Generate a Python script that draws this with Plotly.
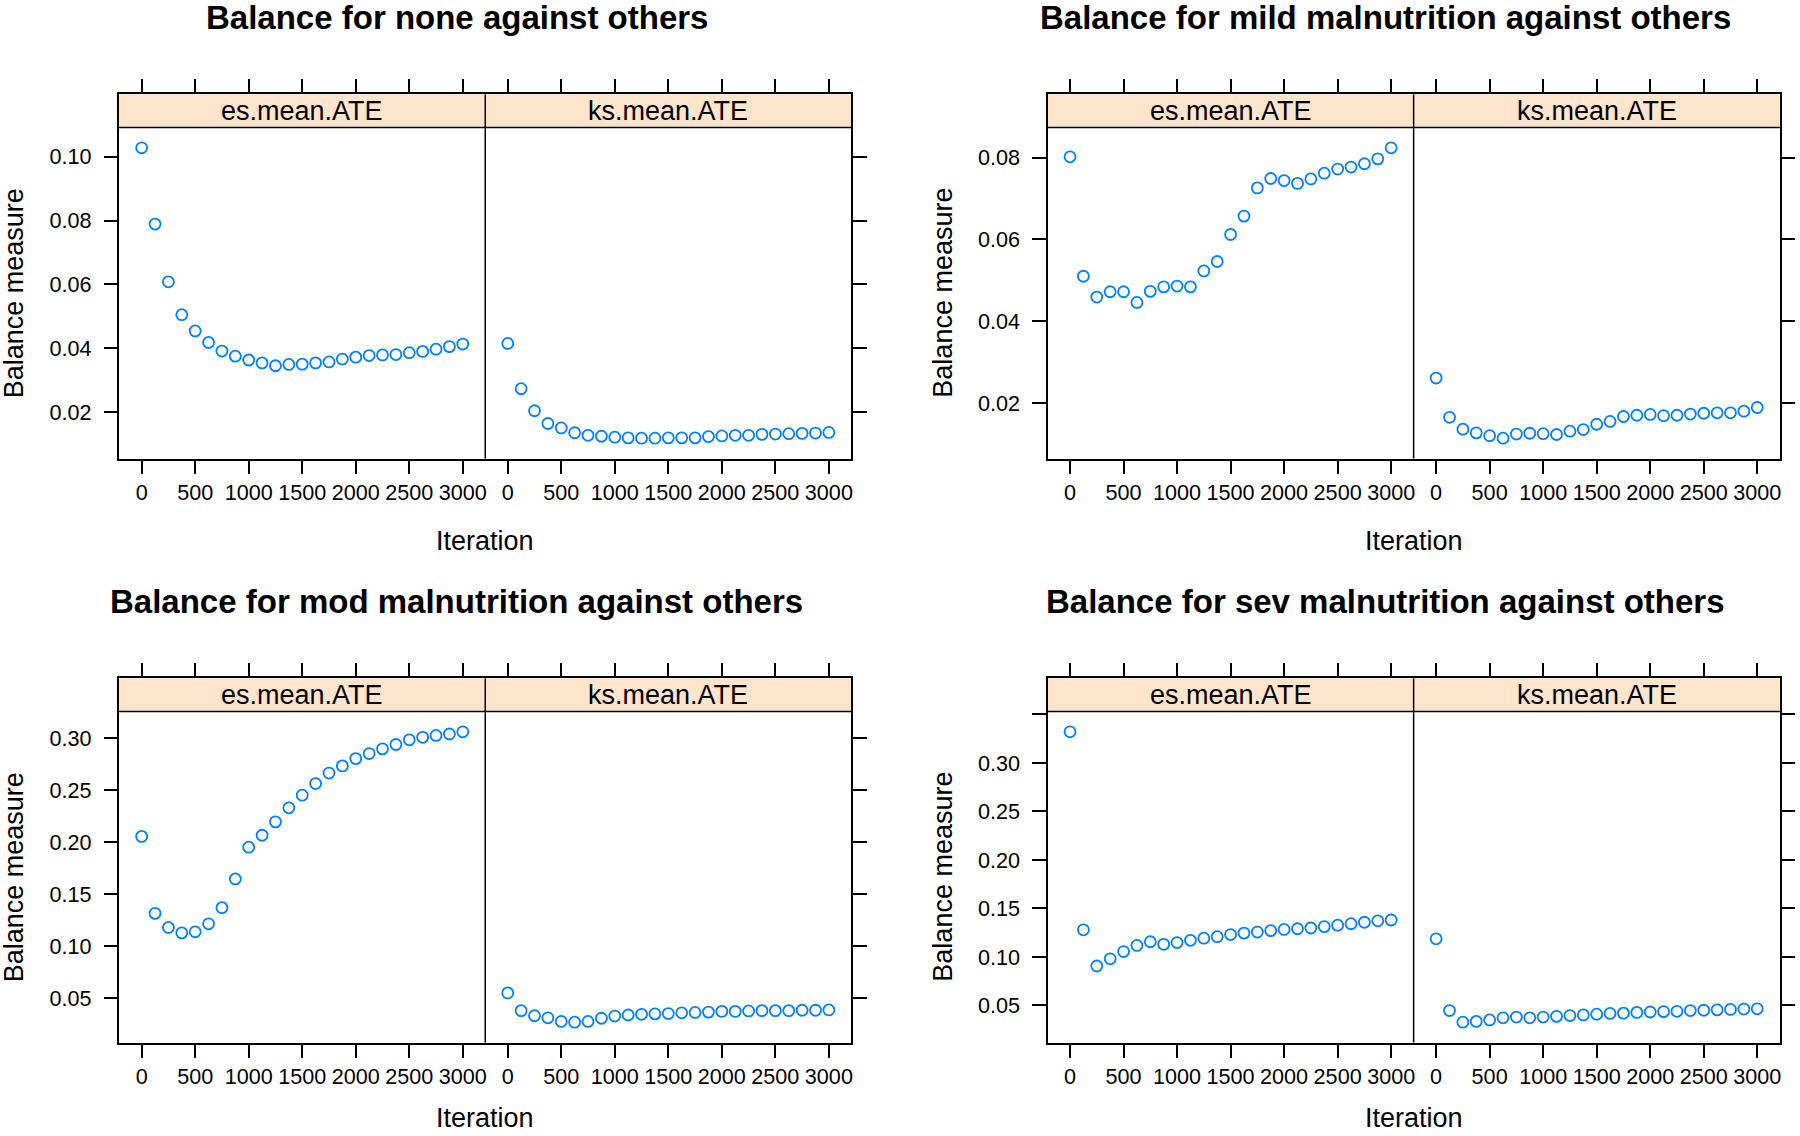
import plotly.graph_objects as go

# ---------------- data ----------------
iterations = list(range(0, 3001, 125))

titles = [
    "Balance for none against others",
    "Balance for mild malnutrition against others",
    "Balance for mod malnutrition against others",
    "Balance for sev malnutrition against others",
]
strip_labels = ["es.mean.ATE", "ks.mean.ATE"]

none_es = [0.1028, 0.0789, 0.0608, 0.0505, 0.0454, 0.0418, 0.0391, 0.0375, 0.0363,
           0.0354, 0.0345, 0.0349, 0.0350, 0.0354, 0.0357, 0.0366, 0.0372, 0.0377,
           0.0379, 0.0380, 0.0386, 0.0390, 0.0397, 0.0405, 0.0413]
none_ks = [0.0415, 0.0273, 0.0204, 0.0164, 0.0150, 0.0135, 0.0127, 0.0124, 0.0121,
           0.0119, 0.0118, 0.0118, 0.0119, 0.0119, 0.0119, 0.0123, 0.0125, 0.0127,
           0.0127, 0.0130, 0.0131, 0.0132, 0.0133, 0.0134, 0.0136]

mild_es = [0.0802, 0.0510, 0.0459, 0.0472, 0.0472, 0.0446, 0.0473, 0.0484, 0.0486,
           0.0484, 0.0523, 0.0546, 0.0612, 0.0657, 0.0726, 0.0749, 0.0744, 0.0737,
           0.0748, 0.0762, 0.0772, 0.0777, 0.0785, 0.0797, 0.0824]
mild_ks = [0.0261, 0.0165, 0.0136, 0.0127, 0.0120, 0.0114, 0.0124, 0.0126, 0.0125,
           0.0123, 0.0131, 0.0135, 0.0148, 0.0155, 0.0167, 0.0170, 0.0172, 0.0169,
           0.0170, 0.0173, 0.0175, 0.0176, 0.0176, 0.0180, 0.0189]

mod_es = [0.2056, 0.1315, 0.1179, 0.1127, 0.1137, 0.1214, 0.1370, 0.1646, 0.1952,
          0.2067, 0.2196, 0.2331, 0.2453, 0.2565, 0.2666, 0.2735, 0.2805, 0.2854,
          0.2899, 0.2941, 0.2986, 0.3010, 0.3028, 0.3042, 0.3063]
mod_ks = [0.0549, 0.0378, 0.0329, 0.0309, 0.0274, 0.0267, 0.0274, 0.0305, 0.0326,
          0.0336, 0.0343, 0.0347, 0.0350, 0.0357, 0.0361, 0.0364, 0.0371, 0.0371,
          0.0375, 0.0378, 0.0378, 0.0378, 0.0382, 0.0382, 0.0385]

sev_es = [0.3321, 0.1280, 0.0907, 0.0981, 0.1056, 0.1119, 0.1157, 0.1131, 0.1149,
          0.1172, 0.1194, 0.1209, 0.1231, 0.1246, 0.1257, 0.1272, 0.1284, 0.1291,
          0.1299, 0.1313, 0.1328, 0.1343, 0.1358, 0.1373, 0.1381]
sev_ks = [0.1187, 0.0448, 0.0328, 0.0336, 0.0351, 0.0373, 0.0381, 0.0373, 0.0381,
          0.0388, 0.0396, 0.0403, 0.0410, 0.0418, 0.0421, 0.0429, 0.0433, 0.0437,
          0.0440, 0.0448, 0.0451, 0.0455, 0.0459, 0.0463, 0.0466]

series = [(none_es, none_ks), (mild_es, mild_ks), (mod_es, mod_ks), (sev_es, sev_ks)]

x_ticks = [0, 500, 1000, 1500, 2000, 2500, 3000]
y_ticks = [
    [0.02, 0.04, 0.06, 0.08, 0.10],
    [0.02, 0.04, 0.06, 0.08],
    [0.05, 0.10, 0.15, 0.20, 0.25, 0.30],
    [0.05, 0.10, 0.15, 0.20, 0.25, 0.30, 0.35],
]
y_tick_text = [
    ["0.02", "0.04", "0.06", "0.08", "0.10"],
    ["0.02", "0.04", "0.06", "0.08"],
    ["0.05", "0.10", "0.15", "0.20", "0.25", "0.30"],
    ["0.05", "0.10", "0.15", "0.20", "0.25", "0.30", ""],
]

# ---------------- layout geometry (pixels) ----------------
W, H = 1800, 1136
PW = 366.5      # width of one panel
SH = 33.2       # strip height
PH = 331.0      # plot area height
origins = [(119.3, 94.3), (1048.7, 94.3), (119.3, 678.3), (1048.7, 678.3)]  # box left, strip top
FONT = "Liberation Sans, Arial, Helvetica, sans-serif"
BLUE = "#0080ff"
STRIP = "#ffe5cc"
LW = 1.5
TL = 13.5


def fx(px):
    return px / W


def fy(py):
    return 1 - py / H


fig = go.Figure()
layout = dict(
    width=W, height=H, autosize=False,
    margin=dict(l=0, r=0, t=0, b=0),
    paper_bgcolor="white", plot_bgcolor="white",
    showlegend=False,
    font=dict(family=FONT, color="black"),
)
shapes = []
annotations = []

xpad = 0.07 * (max(iterations) - min(iterations))
xrange = [min(iterations) - xpad, max(iterations) + xpad]

for g, ((es, ks), (L, T)) in enumerate(zip(series, origins)):
    lo = min(es + ks)
    hi = max(es + ks)
    r = hi - lo
    y0 = lo - 0.07 * r
    y1 = hi + 0.07 * r
    y1e = y1 + (y1 - y0) * SH / PH   # extend so the strip sits inside the axis domain
    ydom = [fy(T + SH + PH), fy(T)]
    for j, vals in enumerate((es, ks)):
        k = 2 * g + j + 1
        xs = "" if k == 1 else str(k)
        fig.add_trace(go.Scatter(
            x=iterations, y=vals, mode="markers",
            xaxis="x" + xs, yaxis="y" + xs,
            marker=dict(symbol="circle-open", size=11, color=BLUE,
                        line=dict(width=1.8, color=BLUE)),
            hoverinfo="x+y",
        ))
        xl = L + j * PW
        layout["xaxis" + xs] = dict(
            domain=[fx(xl), fx(xl + PW)], anchor="y" + xs, range=xrange,
            tickmode="array", tickvals=x_ticks, ticktext=[str(v) for v in x_ticks],
            ticks="outside", ticklen=TL, tickwidth=LW, tickcolor="black",
            showline=True, linewidth=LW, linecolor="black", mirror="ticks",
            showgrid=False, zeroline=False,
            tickfont=dict(size=21.6, family=FONT, color="black"),
            ticklabelstandoff=0,
        )
        layout["yaxis" + xs] = dict(
            domain=ydom, anchor="x" + xs, range=[y0, y1e],
            side="left" if j == 0 else "right",
            tickmode="array", tickvals=y_ticks[g], ticktext=y_tick_text[g],
            showticklabels=(j == 0),
            ticks="outside", ticklen=TL, tickwidth=LW, tickcolor="black",
            showline=True, linewidth=LW, linecolor="black", mirror=False,
            showgrid=False, zeroline=False,
            tickfont=dict(size=21.6, family=FONT, color="black"),
            ticklabelstandoff=8,
        )
        # strip background
        shapes.append(dict(type="rect", xref="paper", yref="paper",
                           x0=fx(xl), x1=fx(xl + PW), y0=fy(T + SH), y1=fy(T),
                           fillcolor=STRIP, line=dict(width=0), layer="below"))
        annotations.append(dict(text=strip_labels[j], xref="paper", yref="paper",
                                x=fx(xl + PW / 2), y=fy(T + SH / 2),
                                xanchor="center", yanchor="middle", showarrow=False,
                                font=dict(size=27, family=FONT, color="black")))
    # strip bottom line and divider
    shapes.append(dict(type="line", xref="paper", yref="paper",
                       x0=fx(L), x1=fx(L + 2 * PW), y0=fy(T + SH), y1=fy(T + SH),
                       line=dict(width=LW, color="black"), layer="above"))
    shapes.append(dict(type="line", xref="paper", yref="paper",
                       x0=fx(L + PW), x1=fx(L + PW), y0=fy(T), y1=fy(T + SH + PH),
                       line=dict(width=LW, color="black"), layer="above"))
    # titles and axis labels
    annotations.append(dict(text="<b>" + titles[g] + "</b>", xref="paper", yref="paper",
                            x=fx(L + PW - 28.5), y=fy(T - 77), xanchor="center", yanchor="middle",
                            showarrow=False, font=dict(size=33, family=FONT, color="black")))
    annotations.append(dict(text="Balance measure", xref="paper", yref="paper",
                            x=fx(L - 105), y=fy(T + SH + PH / 2), xanchor="center", yanchor="middle",
                            textangle=-90, showarrow=False,
                            font=dict(size=27, family=FONT, color="black")))
    # keep the x label inside the page (bottom row sits right at the edge)
    lab_y = min(T + SH + PH + 82, H - 18)
    annotations.append(dict(text="Iteration", xref="paper", yref="paper",
                            x=fx(L + PW), y=fy(lab_y), xanchor="center", yanchor="middle",
                            showarrow=False, borderpad=0,
                            font=dict(size=27, family=FONT, color="black")))

layout["shapes"] = shapes
layout["annotations"] = annotations
fig.update_layout(**layout)
fig.write_html(
    "out.html",
    config={"displayModeBar": False},
    post_script="document.body.style.margin='0';document.body.style.padding='0';"
                "document.body.style.overflow='hidden';",
)
